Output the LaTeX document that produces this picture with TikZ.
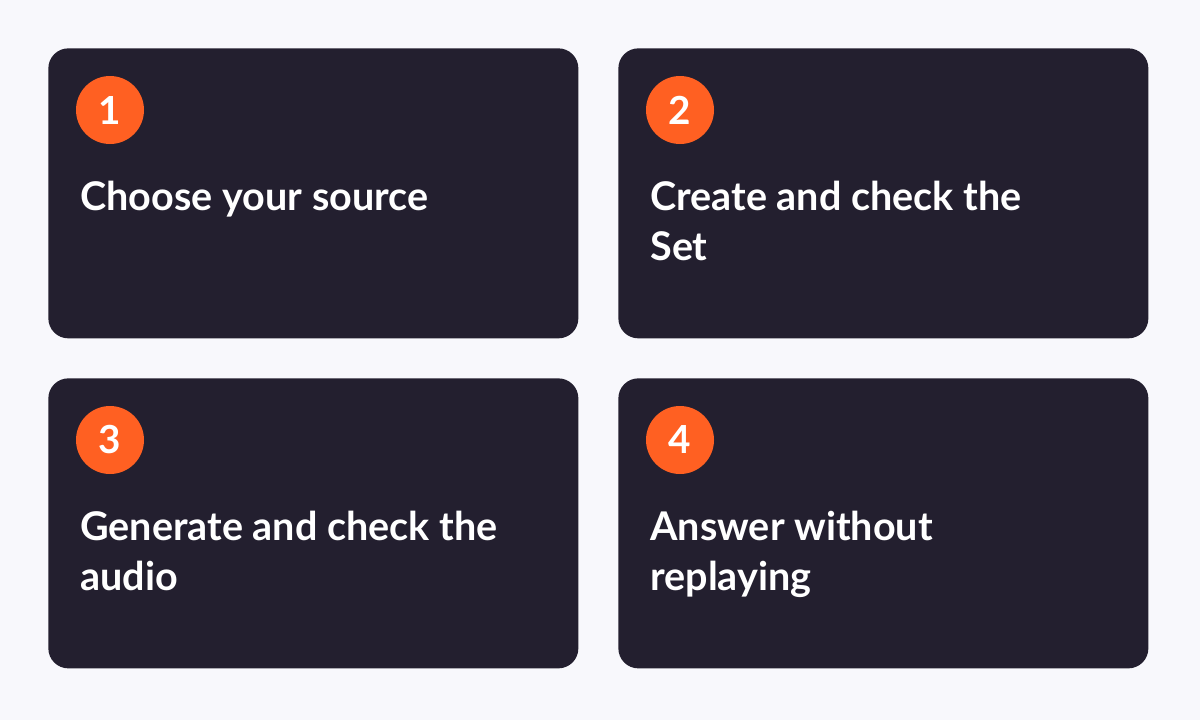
\documentclass[tikz,border=0pt]{standalone}
\usepackage{fontspec}
\setmainfont{Lato}
\usetikzlibrary{positioning}
\definecolor{pagebg}{HTML}{F8F8FC}
\definecolor{cardbg}{HTML}{231F2F}
\definecolor{badge}{HTML}{FF6022}
\tikzset{
    card/.style={fill=cardbg, rounded corners=0.4cm, minimum width=10.6cm, minimum height=5.8cm, inner sep=0pt},
    num/.style={circle, fill=badge, minimum size=1.36cm, inner sep=0pt, text=white, font=\fontsize{22}{22}\bfseries\selectfont},
    steptext/.style={anchor=north west, text=white, align=left, inner sep=0pt, font=\fontsize{22.5}{28.5}\bfseries\selectfont},
}
\begin{document}
\begin{tikzpicture}
    \fill[pagebg] (0,0) rectangle (24,-14.4);
    \useasboundingbox (0,0) rectangle (24,-14.4);

    \node[card, anchor=north west] (c1) at (0.96,-0.96) {};
    \node[card, anchor=north west] (c2) at (12.36,-0.96) {};
    \node[card, anchor=north west] (c3) at (0.96,-7.56) {};
    \node[card, anchor=north west] (c4) at (12.36,-7.56) {};

    \foreach \i/\t in {1/Choose your source, 2/Create and check the\\Set, 3/Generate and check the\\audio, 4/Answer without\\replaying} {
      \node[num] (n\i) at ([xshift=1.24cm, yshift=-1.24cm]c\i.north west) {\i};
      \node[steptext] (t\i) at ([xshift=0.64cm, yshift=-2.66cm]c\i.north west) {\t};
    }
\end{tikzpicture}
\end{document}
